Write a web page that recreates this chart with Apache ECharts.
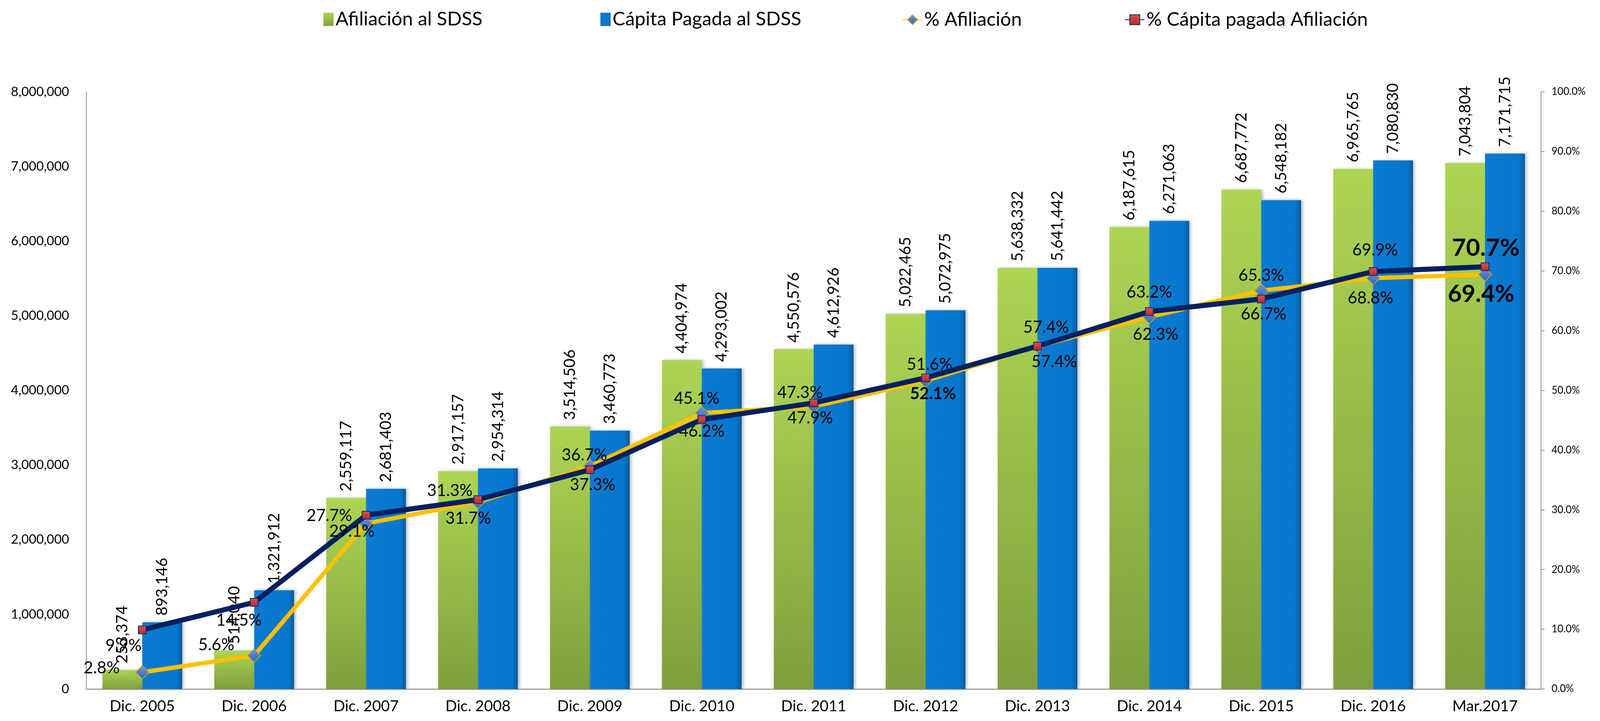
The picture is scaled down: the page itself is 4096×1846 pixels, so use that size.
<!DOCTYPE html>
<html><head><meta charset="utf-8">
<script src="https://cdn.jsdelivr.net/npm/echarts@6/dist/echarts.min.js"></script>
<style>html,body{margin:0;padding:0;background:#fff}#c{width:4096px;height:1846px}</style>
</head><body><div id="c"></div>
<script>
// ---------- data ----------
const categories = ['Dic. 2005','Dic. 2006','Dic. 2007','Dic. 2008','Dic. 2009','Dic. 2010','Dic. 2011','Dic. 2012','Dic. 2013','Dic. 2014','Dic. 2015','Dic. 2016','Mar.2017'];
const afiliacion = [253374, 514040, 2559117, 2917157, 3514506, 4404974, 4550576, 5022465, 5638332, 6187615, 6687772, 6965765, 7043804];
const capita = [893146, 1321912, 2681403, 2954314, 3460773, 4293002, 4612926, 5072975, 5641442, 6271063, 6548182, 7080830, 7171715];
const pctAfiliacion = [2.8, 5.6, 27.7, 31.3, 37.3, 46.2, 47.3, 51.6, 57.4, 62.3, 66.7, 68.8, 69.4];
const pctCapita = [9.9, 14.5, 29.1, 31.7, 36.7, 45.1, 47.9, 52.1, 57.4, 63.2, 65.3, 69.9, 70.7];
const leftAxisMax = 8000000, leftAxisStep = 1000000;
const rightAxisMax = 100, rightAxisStep = 10;
const seriesNames = ['Afiliación al SDSS', 'Cápita Pagada al SDSS', '% Afiliación', '% Cápita pagada Afiliación'];

// ---------- label layout (nudges relative to each point, px) ----------
const yellowLabelNudge = [[-104,-11],[-97,-27],[-94,-20],[-72,-29],[7,48],[0,47],[-35,-35],[10,-42],[43,40],[16,45],[6,60],[-7,51],[-10,50]];
const navyLabelNudge = [[-48,41],[-39,46],[-36,41],[-25,48],[-14,-37],[-13,-54],[-9,39],[19,41],[22,-48],[0,-49],[0,-60],[5,-55],[2,-48]];
const yellowEmph = {12: 61};
const navyEmph = {7: 42, 12: 62};

const FONT = 'Lato';
const fmtInt = v => Math.round(v).toLocaleString('en-US');
const fmtPct = v => v.toFixed(1) + '%';

function lineData(vals, nudges, emph) {
  return vals.map((v, i) => {
    const lab = { offset: nudges[i] };
    if (emph[i] !== undefined) { lab.fontWeight = 'bold'; lab.fontSize = emph[i]; }
    return { value: v, label: lab };
  });
}

const greenGrad = new echarts.graphic.LinearGradient(0, 0, 0, 1, [
  { offset: 0, color: '#acd553' }, { offset: 1, color: '#7f9f3e' }]);
const blueGrad = new echarts.graphic.LinearGradient(0, 0, 1, 0, [
  { offset: 0, color: '#0a7bd2' }, { offset: 0.85, color: '#0677cc' }, { offset: 1, color: '#05599e' }]);
const diamondGrad = new echarts.graphic.LinearGradient(0, 0, 0, 1, [
  { offset: 0, color: '#6a9be0' }, { offset: 1, color: '#2f62b8' }]);
const squareGrad = new echarts.graphic.LinearGradient(0, 0, 0, 1, [
  { offset: 0, color: '#e05050' }, { offset: 1, color: '#b82828' }]);

const barLabel = {
  show: true, position: 'top', rotate: 90, align: 'left', verticalAlign: 'middle',
  distance: 17, formatter: p => fmtInt(p.value), fontFamily: FONT, fontSize: 40, color: '#000'
};
const pctLabel = {
  show: true, position: 'inside', formatter: p => fmtPct(p.value),
  fontFamily: FONT, fontSize: 42, color: '#000'
};
const legendText = { fontFamily: FONT, fontSize: 49, color: '#000' };

const chart = echarts.init(document.getElementById('c'), null, { renderer: 'canvas' });
chart.setOption({
  backgroundColor: '#ffffff',
  animation: false,
  legend: [
    { data: [seriesNames[0]], left: 823, top: 20, itemWidth: 26, itemHeight: 34, icon: 'rect', itemGap: 0, textStyle: legendText },
    { data: [seriesNames[1]], left: 1532, top: 20, itemWidth: 26, itemHeight: 34, icon: 'rect', itemGap: 0, textStyle: legendText },
    { data: [seriesNames[2]], left: 2305, top: 21, itemWidth: 50, itemHeight: 32, itemGap: 0, textStyle: legendText },
    { data: [seriesNames[3]], left: 2874, top: 21, itemWidth: 50, itemHeight: 32, itemGap: 0, textStyle: legendText }
  ],
  grid: { left: 221, right: 151, top: 235, bottom: 82, containLabel: false },
  xAxis: {
    type: 'category', data: categories,
    axisLine: { show: true, lineStyle: { color: '#a0a0a0', width: 3 } },
    axisTick: { show: false },
    axisLabel: { fontFamily: FONT, fontSize: 39, color: '#000', margin: 25 },
    splitLine: { show: false }
  },
  yAxis: [
    {
      type: 'value', min: 0, max: leftAxisMax, interval: leftAxisStep,
      axisLine: { show: true, lineStyle: { color: '#909090', width: 2 } },
      axisTick: { show: false },
      axisLabel: { fontFamily: FONT, fontSize: 33, color: '#000', margin: 44, formatter: v => fmtInt(v) },
      splitLine: { show: false }
    },
    {
      type: 'value', min: 0, max: rightAxisMax, interval: rightAxisStep, position: 'right',
      axisLine: { show: true, lineStyle: { color: '#909090', width: 2 } },
      axisTick: { show: true, length: 9, lineStyle: { color: '#909090', width: 2 } },
      axisLabel: { fontFamily: FONT, fontSize: 26, color: '#000', margin: 27, formatter: v => fmtPct(v) },
      splitLine: { show: false }
    }
  ],
  series: [
    {
      name: seriesNames[0], type: 'bar', data: afiliacion, yAxisIndex: 0,
      barWidth: 102, barGap: '0%',
      itemStyle: { color: greenGrad, shadowColor: 'rgba(0,0,0,0.28)', shadowBlur: 8, shadowOffsetX: 4 },
      label: barLabel
    },
    {
      name: seriesNames[1], type: 'bar', data: capita, yAxisIndex: 0,
      barWidth: 102, barGap: '0%',
      itemStyle: { color: blueGrad, shadowColor: 'rgba(0,0,0,0.28)', shadowBlur: 8, shadowOffsetX: 4 },
      label: barLabel
    },
    {
      name: seriesNames[2], type: 'line', yAxisIndex: 1,
      data: lineData(pctAfiliacion, yellowLabelNudge, yellowEmph),
      symbol: 'diamond', symbolSize: 34,
      lineStyle: { color: '#ffc000', width: 11 },
      itemStyle: { color: diamondGrad, borderColor: '#d9a400', borderWidth: 2 },
      label: pctLabel, z: 3
    },
    {
      name: seriesNames[3], type: 'line', yAxisIndex: 1,
      data: lineData(pctCapita, navyLabelNudge, navyEmph),
      symbol: 'rect', symbolSize: 20,
      lineStyle: { color: '#002060', width: 13 },
      itemStyle: { color: squareGrad, borderColor: '#0d2a6a', borderWidth: 2 },
      label: pctLabel, z: 4
    }
  ]
});
</script></body></html>
